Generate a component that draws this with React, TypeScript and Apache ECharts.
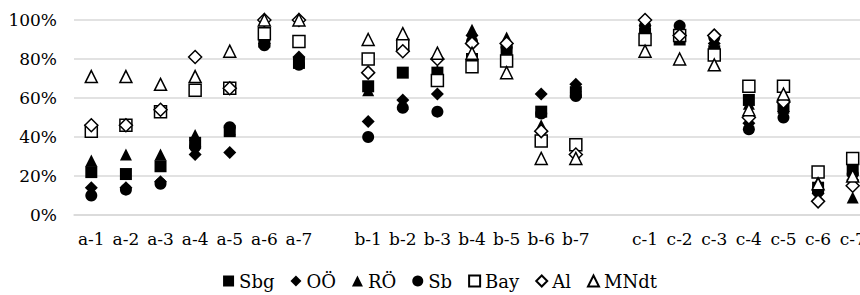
import React, { useEffect, useRef } from 'react';
import * as echarts from 'echarts';

const categories = [
  'a-1', 'a-2', 'a-3', 'a-4', 'a-5', 'a-6', 'a-7', '',
  'b-1', 'b-2', 'b-3', 'b-4', 'b-5', 'b-6', 'b-7', '',
  'c-1', 'c-2', 'c-3', 'c-4', 'c-5', 'c-6', 'c-7',
];

const sbg = [22, 21, 25, 37, 43, 89, 78, null, 66, 73, 73, 80, 84, 53, 63, null, 93, 90, 84, 59, 56, 14, 23];
const ooe = [14, 14, 17, 31, 32, 88, 81, null, 48, 59, 62, 92, 88, 62, 67, null, 97, 93, 88, 47, 53, 11, 18];
const roe = [28, 31, 31, 41, 44, 89, 80, null, 64, 57, 74, 95, 91, 46, 66, null, 95, 95, 85, 57, 55, 17, 9];
const sb = [10, 13, 16, 35, 45, 87, 77, null, 40, 55, 53, 89, 86, 52, 61, null, 97, 97, 91, 44, 50, 12, 21];
const bay = [43, 46, 53, 64, 65, 93, 89, null, 80, 87, 69, 76, 79, 38, 36, null, 90, 92, 82, 66, 66, 22, 29];
const al = [46, 46, 54, 81, 65, 100, 100, null, 73, 84, 80, 88, 88, 43, 31, null, 100, 92, 92, 50, 58, 7, 15];
const mndt = [71, 71, 67, 71, 84, 100, 100, null, 90, 93, 83, 83, 73, 29, 29, null, 84, 80, 77, 54, 62, 16, 20];

const yTicks = [0, 20, 40, 60, 80, 100];
const seriesNames = ['Sbg', 'OÖ', 'RÖ', 'Sb', 'Bay', 'Al', 'MNdt'];

const FONT = 'DejaVu Serif';

export default function App() {
  const ref = useRef<HTMLDivElement>(null);
  useEffect(() => {
    const chart = echarts.init(ref.current as HTMLDivElement, null, { renderer: 'svg' });
    const filled = { color: '#000', opacity: 1 };
    const empty = { color: '#fff', borderColor: '#000', borderWidth: 1.5, opacity: 1 };
    const mk = (name: string, data: (number | null)[], symbol: string, style: any, size = 12) => ({
      name,
      type: 'scatter',
      data,
      symbol,
      symbolSize: size,
      itemStyle: style,
    });
    chart.setOption({
      animation: false,
      backgroundColor: '#fff',
      textStyle: { fontFamily: FONT },
      grid: { left: 74, right: 10, top: 20, bottom: 80 },
      xAxis: {
        type: 'category',
        data: categories,
        boundaryGap: true,
        axisLine: { lineStyle: { color: '#d9d9d9', width: 1.5 } },
        axisTick: { show: false },
        axisLabel: { fontFamily: FONT, fontSize: 17, color: '#000', margin: 15, interval: 0 },
      },
      yAxis: {
        type: 'value',
        min: yTicks[0],
        max: yTicks[yTicks.length - 1],
        interval: 20,
        axisLine: { show: false },
        axisTick: { show: false },
        splitLine: { lineStyle: { color: '#d9d9d9', width: 1.5 } },
        axisLabel: { fontFamily: FONT, fontSize: 17, color: '#000', margin: 17, formatter: '{value}%' },
      },
      legend: {
        top: 267,
        left: 'center',
        itemWidth: 11,
        itemHeight: 11,
        itemGap: 16,
        textStyle: { fontFamily: FONT, fontSize: 18, color: '#000' },
        data: seriesNames,
      },
      series: [
        mk(seriesNames[0], sbg, 'rect', filled),
        mk(seriesNames[1], ooe, 'diamond', filled, 13),
        mk(seriesNames[2], roe, 'triangle', filled),
        mk(seriesNames[3], sb, 'circle', filled),
        mk(seriesNames[4], bay, 'rect', empty),
        mk(seriesNames[5], al, 'diamond', empty, 13),
        mk(seriesNames[6], mndt, 'triangle', empty),
      ],
    });
    return () => chart.dispose();
  }, []);
  return (
    <div style={{ position: 'absolute', left: 0, top: 0, width: 860, height: 295, overflow: 'hidden', background: '#fff' }}>
      <div ref={ref} style={{ width: 880, height: 295 }} />
    </div>
  );
}
